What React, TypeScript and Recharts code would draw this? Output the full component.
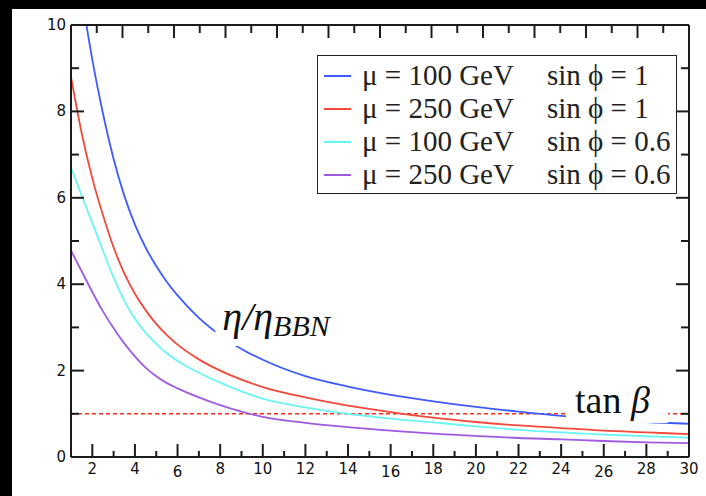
import React from 'react';
import { LineChart, Line, XAxis, YAxis, ReferenceLine, ReferenceDot, Legend } from 'recharts';

// tan(beta) sample points shared by all four curves
const tanBeta = [1, 1.5, 2, 2.5, 3, 3.5, 4, 4.5, 5, 5.5, 6, 7, 8, 9, 10, 12, 14, 16, 18, 20, 22, 24, 26, 28, 30];

// eta / eta_BBN for each (mu, sin phi) choice
const mu100sin1 = [12.4, 10.7, 9.2, 7.95, 6.9, 6.05, 5.38, 4.85, 4.42, 4.05, 3.74, 3.22, 2.82, 2.5, 2.25, 1.87, 1.63, 1.44, 1.29, 1.16, 1.05, 0.95, 0.87, 0.81, 0.77];
const mu250sin1 = [8.8, 7.5, 6.45, 5.6, 4.85, 4.25, 3.78, 3.4, 3.08, 2.82, 2.6, 2.26, 2.0, 1.79, 1.62, 1.38, 1.19, 1.04, 0.91, 0.81, 0.73, 0.67, 0.61, 0.57, 0.53];
const mu100sin06 = [6.7, 6.05, 5.42, 4.78, 4.15, 3.62, 3.2, 2.88, 2.62, 2.4, 2.22, 1.95, 1.72, 1.52, 1.35, 1.15, 1.0, 0.89, 0.8, 0.71, 0.63, 0.57, 0.52, 0.48, 0.45];
const mu250sin06 = [4.78, 4.3, 3.82, 3.37, 2.98, 2.63, 2.33, 2.07, 1.87, 1.71, 1.59, 1.38, 1.2, 1.05, 0.93, 0.79, 0.69, 0.61, 0.54, 0.49, 0.44, 0.41, 0.37, 0.34, 0.32];

const xTicks = Array.from({ length: 30 }, (_, i) => i + 1);
const yTicks = Array.from({ length: 11 }, (_, i) => i);
const loweredXTicks = [6, 16, 26];
const bbnLevel = 1;

const series = [
  { key: 'mu100sin1', mu: 'μ = 100 GeV', sin: 'sin ϕ = 1', color: '#3f5bff', values: mu100sin1 },
  { key: 'mu250sin1', mu: 'μ = 250 GeV', sin: 'sin ϕ = 1', color: '#f2493a', values: mu250sin1 },
  { key: 'mu100sin06', mu: 'μ = 100 GeV', sin: 'sin ϕ = 0.6', color: '#6af5f5', values: mu100sin06 },
  { key: 'mu250sin06', mu: 'μ = 250 GeV', sin: 'sin ϕ = 0.6', color: '#a05ae0', values: mu250sin06 },
];

const data = tanBeta.map((x, i) => {
  const row: Record<string, number> = { x };
  series.forEach((s) => { row[s.key] = s.values[i]; });
  return row;
});

const AXIS = '#1c1c1c';
const SERIF = "'Liberation Serif', 'Times New Roman', 'DejaVu Serif', serif";
const tickFont = { fontFamily: "'DejaVu Sans', sans-serif", fontSize: 15, fill: '#111' };

const BottomTick = ({ x, y, payload }: any) => {
  const v = payload.value;
  const major = v % 2 === 0;
  return (
    <g>
      <line x1={x} x2={x} y1={y} y2={y - (major ? 13 : 6)} stroke={AXIS} strokeWidth={2} />
      {major && (
        <text x={x} y={y + 17 + (loweredXTicks.includes(v) ? 3 : 0)} textAnchor="middle" {...tickFont}>{v}</text>
      )}
    </g>
  );
};

const TopTick = ({ x, y, payload }: any) => {
  const major = payload.value % 2 === 0;
  return <line x1={x} x2={x} y1={y} y2={y + (major ? 13 : 8)} stroke={AXIS} strokeWidth={2} />;
};

const LeftTick = ({ x, y, payload }: any) => {
  const v = payload.value;
  const major = v % 2 === 0;
  return (
    <g>
      <line x1={x} x2={x + (major ? 13 : 8)} y1={y} y2={y} stroke={AXIS} strokeWidth={2} />
      {major && (
        <text x={x - 5} y={y + 5} textAnchor="end" {...tickFont}>{v}</text>
      )}
    </g>
  );
};

const RightTick = ({ x, y, payload }: any) => {
  const major = payload.value % 2 === 0;
  return <line x1={x} x2={x - (major ? 13 : 8)} y1={y} y2={y} stroke={AXIS} strokeWidth={2} />;
};

const EtaLabel = ({ cx, cy }: any) => (
  <g>
    <rect x={cx - 7} y={cy - 37} width={130} height={53} fill="#fff" />
    <text x={cx} y={cy} fontFamily={SERIF} fontStyle="italic" fontSize={40} fill="#111">
      η/η<tspan fontSize={30} dy={6}>BBN</tspan>
    </text>
  </g>
);

const TanBetaLabel = ({ cx, cy }: any) => (
  <g>
    <rect x={cx - 9} y={cy - 32} width={102} height={42} fill="#fff" />
    <text x={cx} y={cy} fontFamily={SERIF} fontSize={38} fill="#111">
      tan <tspan fontStyle="italic">β</tspan>
    </text>
  </g>
);

const LegendBox = () => (
  <div
    style={{
      width: 360,
      height: 139,
      boxSizing: 'border-box',
      border: '1.5px solid #222',
      background: '#fff',
      paddingTop: 3,
      fontFamily: SERIF,
      fontSize: 29,
      color: '#222',
    }}
  >
    {series.map((s) => (
      <div key={s.key} style={{ position: 'relative', height: 33, lineHeight: '33px', whiteSpace: 'nowrap' }}>
        <span style={{ position: 'absolute', left: 6, top: 16, width: 27, height: 0, borderTop: `2px solid ${s.color}` }} />
        <span style={{ position: 'absolute', left: 44 }}>{s.mu}</span>
        <span style={{ position: 'absolute', left: 229 }}>{s.sin}</span>
      </div>
    ))}
  </div>
);

export default function App() {
  return (
    <div style={{ position: 'fixed', left: 0, top: 0, width: 706, height: 496, background: '#000' }}>
      <div style={{ position: 'absolute', left: 12, top: 9, right: 0, bottom: 0, background: '#fff' }} />
      <div style={{ position: 'absolute', left: 0, top: 0 }}>
        <LineChart width={706} height={496} data={data} margin={{ top: 24, right: 16, bottom: 9, left: 41 }}>
          <XAxis
            type="number"
            dataKey="x"
            domain={[1, 30]}
            ticks={xTicks}
            interval={0}
            allowDataOverflow
            height={30}
            tickSize={0}
            tickMargin={0}
            tickLine={false}
            axisLine={{ stroke: AXIS, strokeWidth: 2 }}
            tick={<BottomTick />}
          />
          <XAxis
            xAxisId="top"
            orientation="top"
            type="number"
            domain={[1, 30]}
            ticks={xTicks}
            interval={0}
            allowDataOverflow
            height={1}
            tickSize={0}
            tickMargin={0}
            tickLine={false}
            axisLine={{ stroke: AXIS, strokeWidth: 2 }}
            tick={<TopTick />}
          />
          <YAxis
            type="number"
            domain={[0, 10]}
            ticks={yTicks}
            interval={0}
            allowDataOverflow
            width={30}
            tickSize={0}
            tickMargin={0}
            tickLine={false}
            axisLine={{ stroke: AXIS, strokeWidth: 2 }}
            tick={<LeftTick />}
          />
          <YAxis
            yAxisId="right"
            orientation="right"
            type="number"
            domain={[0, 10]}
            ticks={yTicks}
            interval={0}
            allowDataOverflow
            width={1}
            tickSize={0}
            tickMargin={0}
            tickLine={false}
            axisLine={{ stroke: AXIS, strokeWidth: 2 }}
            tick={<RightTick />}
          />
          <ReferenceLine y={bbnLevel} stroke="#ff2a1a" strokeWidth={1.6} strokeDasharray="4 3" />
          {series.map((s) => (
            <Line
              key={s.key}
              dataKey={s.key}
              type="monotone"
              stroke={s.color}
              strokeWidth={1.8}
              dot={false}
              activeDot={false}
              isAnimationActive={false}
            />
          ))}
          <ReferenceDot x={8.1} y={2.94} r={0} shape={(p: any) => <EtaLabel cx={p.cx} cy={p.cy} />} />
          <ReferenceDot x={24.65} y={1.02} r={0} shape={(p: any) => <TanBetaLabel cx={p.cx} cy={p.cy} />} />
          <Legend
            layout="horizontal"
            verticalAlign="middle"
            align="center"
            wrapperStyle={{ position: 'absolute', left: 317, top: 55, width: 360, height: 139 }}
            content={() => <LegendBox />}
          />
        </LineChart>
      </div>
    </div>
  );
}
